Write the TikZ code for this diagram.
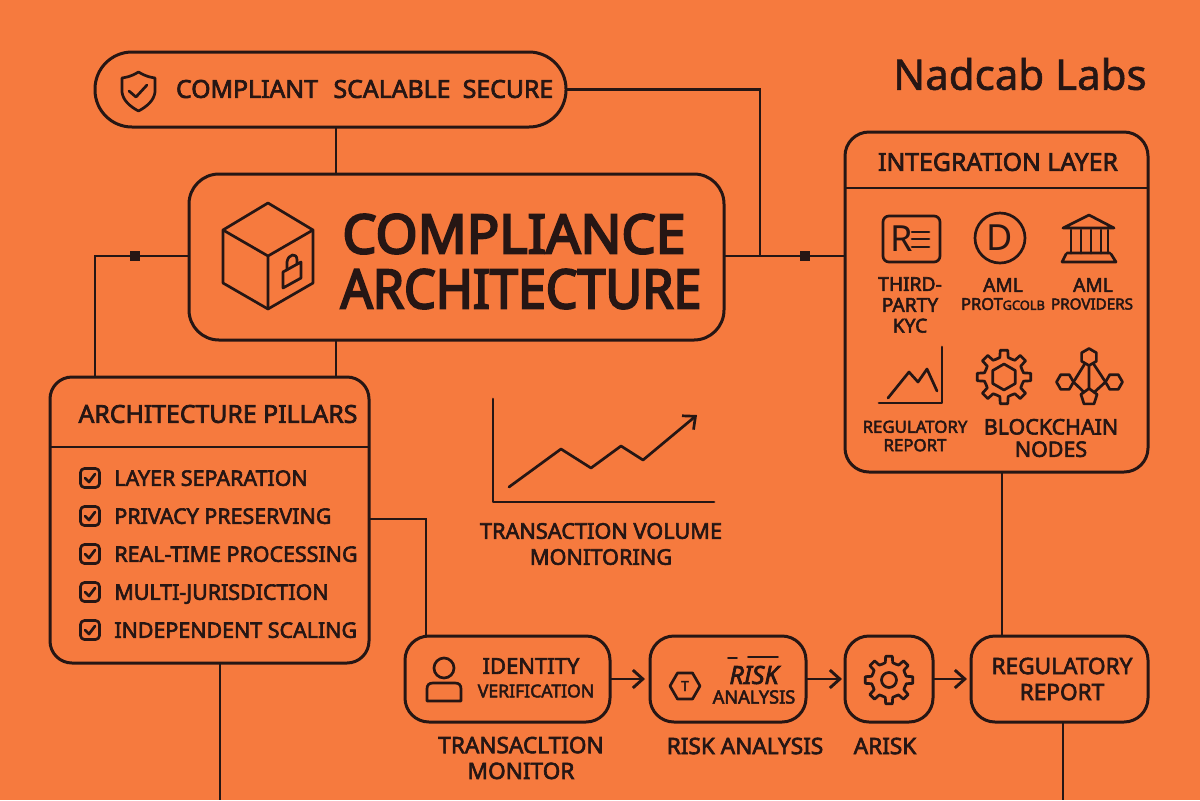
\documentclass[tikz,border=0pt]{standalone}
\usepackage{fontspec}
\setmainfont{Noto Sans}[FakeBold=2.8]
\newfontfamily\brandfont{Noto Sans}[FakeBold=1.4]
\newfontfamily\thinfont{Noto Sans}
\newfontfamily\titlefont{Noto Sans}[FakeBold=4]
\usetikzlibrary{positioning,calc,arrows.meta,shapes.geometric}
\definecolor{paper}{HTML}{F67A3E}
\definecolor{ink}{HTML}{261614}
\tikzset{
  box/.style={draw=ink,line width=1.5pt,rounded corners=#1,inner sep=0pt,outer sep=0pt},
  wire/.style={draw=ink,line width=1.45pt},
  flow/.style={wire,-{Straight Barb[length=5pt,width=9pt,line width=1.45pt]}},
  icon/.style={draw=ink,line width=1.35pt,line join=round,line cap=round},
  knot/.style={fill=ink,inner sep=0pt,minimum size=5pt},
  txt/.style={text=ink,inner sep=0pt,align=center},
  hugetxt/.style={txt,font=\titlefont\fontsize{27}{30}\selectfont},
  headtxt/.style={txt,font=\fontsize{12.4}{14}\selectfont},
  rowtxt/.style={txt,font=\fontsize{10.7}{12}\selectfont},
  lowtxt/.style={txt,font=\fontsize{11.3}{12.9}\selectfont},
  smalltxt/.style={txt,font=\fontsize{9.6}{10.4}\selectfont},
  tinytxt/.style={txt,font=\fontsize{8.6}{9.2}\selectfont},
  hexa/.style={icon,regular polygon,regular polygon sides=6,inner sep=0pt,outer sep=0pt,minimum size=#1},
  gearicon/.pic={
    \foreach \a in {0,45,...,315}
      \draw[icon] (\a-22.5:#1*.72) -- (\a-12:#1*.74) -- (\a-8:#1) -- (\a+8:#1)
        -- (\a+12:#1*.74) -- (\a+22.5:#1*.72);
  }
}
\begin{document}
\begin{tikzpicture}[x=0.5pt,y=-0.5pt]
  \fill[paper] (0,0) rectangle (1200,800);
  \useasboundingbox (0,0) rectangle (1200,800);

  % boxes
  \node[box=18.5pt,minimum width=235.5pt,minimum height=37.5pt] (pill) at (330.5,89.5) {};
  \node[box=15pt,minimum width=267.5pt,minimum height=83pt] (core) at (456.5,257) {};
  \node[box=12pt,minimum width=151.5pt,minimum height=170pt] (integ) at (996.5,302) {};
  \node[box=11pt,minimum width=159.5pt,minimum height=143pt] (pillars) at (209.5,520) {};
  \node[box=12pt,minimum width=102.5pt,minimum height=43pt] (ident) at (507.5,679) {};
  \node[box=12pt,minimum width=78pt,minimum height=43pt] (risk) at (728,679) {};
  \node[box=12pt,minimum width=44pt,minimum height=43pt] (gearbox) at (889,679) {};
  \node[box=12pt,minimum width=88.5pt,minimum height=43pt] (report) at (1059.5,679) {};

  \draw[wire] (integ.west |- 0,188) -- (integ.east |- 0,188);
  \draw[wire] (pillars.west |- 0,447) -- (pillars.east |- 0,447);

  % connectors
  \coordinate (join) at (760,256);
  \coordinate (tapa) at (336,0);
  \coordinate (tapb) at (426,519);
  \coordinate (tapc) at (1002,0);
  \coordinate (tapl) at (95,256);
  \coordinate (exita) at (220,800);
  \coordinate (exitb) at (1063,800);
  \node[knot] (knotl) at (135,256) {};
  \node[knot] (knotr) at (805,256) {};

  \draw[wire] (pill.east) -| (join);
  \draw[wire] (tapa |- pill.south) -- (tapa |- core.north);
  \draw[wire] (tapa |- core.south) -- (tapa |- pillars.north);
  \draw[wire] (core.west |- tapl) -- (knotl) -- (tapl) -- (tapl |- pillars.north);
  \draw[wire] (core.east |- knotr) -- (knotr) -- (integ.west |- knotr);
  \draw[wire] (pillars.east |- tapb) -- (tapb) -- (tapb |- ident.north);
  \draw[wire] (tapc |- integ.south) -- (tapc |- report.north);
  \draw[wire] (exita |- pillars.south) -- (exita);
  \draw[wire] (exitb |- report.south) -- (exitb);
  \draw[flow] (ident.east) -- ++(35,0);
  \draw[flow] (risk.east) -- ++(36,0);
  \draw[flow] (gearbox.east) -- ++(34,0);

  % top pill
  \draw[icon] (138.5,72) .. controls (130,77) and (127,77) .. (122,78) -- (122,92)
    .. controls (123,101) and (131,107) .. (138.5,111)
    .. controls (146,107) and (154,101) .. (155,92) -- (155,78)
    .. controls (150,77) and (147,77) .. (138.5,72) -- cycle;
  \draw[icon] (129,91) -- (136,97) -- (147,85);
  \node[headtxt] (compliant) at (247,89) {COMPLIANT};
  \node[headtxt] (scalable) at (392,89) {SCALABLE};
  \node[headtxt] (secure) at (508,89) {SECURE};
  \node[txt,font=\brandfont\fontsize{21}{22}\selectfont] (brand) at (1020,74) {Nadcab Labs};

  % core
  \draw[icon] (268,203) -- (313,230) -- (313,283) -- (268,309) -- (223,283) -- (223,230) -- cycle;
  \draw[icon] (223,230) -- (268,256) -- (313,230) (268,256) -- (268,309);
  \draw[icon] (283,272) -- (301,262) -- (301,278) -- (283,288) -- cycle;
  \draw[icon] (287,270) -- (287,262) .. controls (288,254) and (297,252) .. (297,260) -- (297,264);
  \node[hugetxt] (title) at (514,234) {COMPLIANCE};
  \node[hugetxt] (titleb) at (521,289) {\scalebox{.93}[1]{ARCHITECTURE}};

  % integration layer
  \node[headtxt] (integtitle) at (998,162) {INTEGRATION LAYER};
  \node[icon,rounded corners=3pt,inner sep=0pt,minimum width=28.5pt,minimum height=23pt] (kyc) at (911.5,239) {};
  \node[txt,font=\thinfont\fontsize{18}{18}\selectfont] (kycr) at (902,239) {R};
  \foreach \y in {232,239,247} \draw[icon] (912,\y) -- (929,\y);
  \node[icon,circle,inner sep=0pt,minimum size=25pt] (aml) at (1000,238) {};
  \node[txt,font=\thinfont\fontsize{18}{18}\selectfont] (amld) at (1000,238) {D};
  \draw[icon] (1063,228) -- (1089,215) -- (1114,228) -- cycle;
  \foreach \x in {1071,1081,1091,1101,1108} \draw[icon] (\x,230) -- (\x,253);
  \draw[icon] (1067,253) -- (1110,253) (1062,262) -- (1066,254) (1116,262) -- (1111,254) (1062,262) -- (1116,262);
  \node[smalltxt] (third) at (910,305) {THIRD-\\PARTY\\KYC};
  \node[smalltxt] (amlt) at (1003,285) {AML};
  \node[txt,font=\fontsize{8.2}{9}\selectfont] (prot) at (1003,304) {PROT{\fontsize{6.4}{7}\selectfont GCOLB}};
  \node[smalltxt] (provt) at (1093,285) {AML};
  \node[txt,font=\fontsize{7.6}{9}\selectfont] (provb) at (1092,304) {PROVIDERS};
  \draw[icon] (942,347) -- (942,403) -- (879,403);
  \draw[icon] (888,398) -- (909,372) -- (918,382) -- (927,369) -- (937,391);
  \pic at (1004,377) {gearicon=27};
  \node[hexa=13pt,rotate=30] (gearhex) at (1004,377) {};
  \node[hexa=8.5pt,rotate=30] (hextop) at (1089,357) {};
  \node[hexa=8.5pt] (hexl) at (1065,382) {};
  \node[hexa=8.5pt] (hexr) at (1114,382) {};
  \node[icon,regular polygon,regular polygon sides=5,inner sep=0pt,outer sep=0pt,minimum size=8.5pt] (hexb) at (1089,397) {};
  \draw[icon] (hextop) -- (hexl.east) -- (hexb) -- (hexr.west) -- (hextop) -- (hexb);
  \node[txt,font=\fontsize{8.4}{9.2}\selectfont] (regrep) at (915,436) {REGULATORY\\REPORT};
  \node[txt,font=\fontsize{10.7}{11.2}\selectfont] (chain) at (1051,438) {BLOCKCHAIN\\NODES};

  % pillars
  \node[headtxt] (pillartitle) at (218,414) {ARCHITECTURE PILLARS};
  \foreach \n/\y/\t in {a/478/LAYER SEPARATION,b/516/PRIVACY PRESERVING,c/554/REAL-TIME PROCESSING,
    d/592/MULTI-JURISDICTION,e/630/INDEPENDENT SCALING} {
    \node[icon,rounded corners=2pt,inner sep=0pt,minimum size=9.5pt] (chk\n) at (90,\y) {};
    \draw[icon] ($(chk\n)+(-5,0)$) -- ($(chk\n)+(-1,4)$) -- ($(chk\n)+(5,-4)$);
    \node[rowtxt,anchor=west,text height=7.8pt,text depth=0pt] (row\n) at (114,\y) {\t};
  }

  % volume chart
  \coordinate (orig) at (493,502);
  \draw[icon] (493,399) -- (orig) -- (714,502);
  \coordinate (tip) at (697,415);
  \draw[icon,-{Straight Barb[length=5pt,width=9pt,line width=1.35pt]}] (509,487) -- (561,449) -- (591,468) -- (621,446) -- (643,460) -- (tip);
  \node[txt,font=\fontsize{10.85}{13}\selectfont] (volume) at (601,544) {TRANSACTION VOLUME\\MONITORING};

  % bottom row
  \draw[icon] (444,668) circle (10);
  \draw[icon] (427,701) -- (427,689) .. controls (427,685) and (429,683) .. (433,683) -- (455,683)
    .. controls (459,683) and (461,685) .. (461,689) -- (461,701) -- cycle;
  \node[txt,font=\fontsize{11}{13}\selectfont] (idt) at (531,666) {IDENTITY};
  \node[tinytxt,font=\fontsize{8.8}{10}\selectfont] (idb) at (536,691) {VERIFICATION};
  \node[hexa=15pt] (riskhex) at (685,686) {};
  \node[txt,font=\fontsize{7}{7}\selectfont] (riskt) at (685,686) {T};
  \node[txt,font=\fontsize{12.5}{13}\itshape\selectfont] (riska) at (754,675) {RISK};
  \node[txt,font=\fontsize{9.1}{10}\selectfont] (riskb) at (754,697) {ANALYSIS};
  \draw[icon,line width=.9pt] (728,658) -- (737,658) (748,657) -- (778,657);
  \pic at (889,680) {gearicon=24};
  \draw[icon] (889,680) circle (7.5);
  \node[lowtxt] (regt) at (1062,666) {REGULATORY};
  \node[lowtxt] (regb) at (1062,692) {REPORT};
  \node[lowtxt] (trans) at (521,758) {TRANSACLTION\\MONITOR};
  \node[lowtxt] (riskc) at (745,746) {RISK ANALYSIS};
  \node[lowtxt] (arisk) at (885,746) {ARISK};
\end{tikzpicture}
\end{document}
